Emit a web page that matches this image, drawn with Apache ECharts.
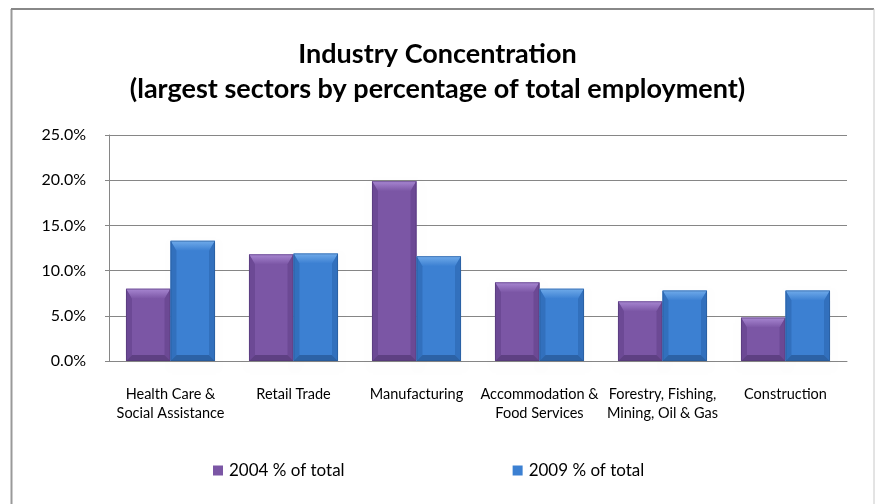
<!DOCTYPE html>
<html>
<head>
<meta charset="utf-8">
<script src="https://cdn.jsdelivr.net/npm/echarts@6/dist/echarts.min.js"></script>
<style>
  html, body { margin: 0; padding: 0; background: #fff; }
  #chart { width: 875px; height: 504px; }
</style>
</head>
<body>
<div id="chart"></div>
<script>
// Employment share by sector, 2004 vs 2009 (percent of total)
const categories = [
  'Health Care &\nSocial Assistance',
  'Retail Trade',
  'Manufacturing',
  'Accommodation &\nFood Services',
  'Forestry, Fishing,\nMining, Oil & Gas',
  'Construction'
];
const share2004 = [8.0, 11.8, 19.9, 8.7, 6.6, 4.8];
const share2009 = [13.3, 11.9, 11.6, 8.0, 7.8, 7.8];
const seriesNames = ['2004 % of total', '2009 % of total'];
const titleText = 'Industry Concentration';
const subtitleText = '(largest sectors by percentage of total employment)';

// bevel palettes: body, top face, side faces, bottom face
const palettes = [
  { body: '#7b56a5', top: '#a887d2', side: '#6c4995', bottom: '#5e4083', edge: '#4e3470' },
  { body: '#3c80d2', top: '#70abea', side: '#3270bd', bottom: '#2c62a6', edge: '#245490' }
];

// draws one bevelled column; the 2004 bar sits left of the category centre, 2009 right
function bevelBar(seriesIdx) {
  const pal = palettes[seriesIdx];
  return function (params, api) {
    const cat = api.value(0);
    const val = api.value(1);
    const band = api.size([1, 0])[0];
    const barW = band * 0.362;
    const topPt = api.coord([cat, val]);
    const basePt = api.coord([cat, 0]);
    const x0 = seriesIdx === 0 ? topPt[0] - barW : topPt[0];
    const x1 = x0 + barW;
    const y0 = topPt[1];
    const y1 = basePt[1];
    const h = y1 - y0;
    const bv = Math.min(10, h / 2);
    const sv = Math.min(6, barW / 4);
    return {
      type: 'group',
      children: [
        // soft shadow below the bar
        { type: 'rect', shape: { x: x0 + 1, y: y0 + 2, width: barW, height: h },
          style: { fill: 'rgba(0,0,0,0.01)', shadowBlur: 6, shadowOffsetY: 3, shadowColor: 'rgba(0,0,0,0.35)' }, silent: true },
        { type: 'rect', shape: { x: x0, y: y0, width: barW, height: h },
          style: { fill: pal.body } },
        { type: 'polygon', shape: { points: [[x0, y0], [x1, y0], [x1 - sv, y0 + bv], [x0 + sv, y0 + bv]] },
          style: { fill: new echarts.graphic.LinearGradient(0, 0, 0, 1, [
            { offset: 0, color: pal.top }, { offset: 1, color: pal.body }]) } },
        { type: 'polygon', shape: { points: [[x0, y0], [x0 + sv, y0 + bv], [x0 + sv, y1 - sv], [x0, y1]] },
          style: { fill: pal.side } },
        { type: 'polygon', shape: { points: [[x1, y0], [x1 - sv, y0 + bv], [x1 - sv, y1 - sv], [x1, y1]] },
          style: { fill: pal.side } },
        { type: 'polygon', shape: { points: [[x0, y1], [x0 + sv, y1 - sv], [x1 - sv, y1 - sv], [x1, y1]] },
          style: { fill: pal.bottom } },
        { type: 'rect', shape: { x: x0 + 0.5, y: y0 + 0.5, width: barW - 1, height: h - 1 },
          style: { fill: 'none', stroke: pal.edge, lineWidth: 1, opacity: 0.5 } }
      ]
    };
  };
}

const chart = echarts.init(document.getElementById('chart'), null, { renderer: 'canvas' });

const titleFont = { fontFamily: 'Lato', fontWeight: 'bold', fontSize: 27, color: '#000' };

chart.setOption({
  animation: false,
  backgroundColor: '#ffffff',
  graphic: [
    { type: 'line', shape: { x1: 11.5, y1: 9, x2: 11.5, y2: 504 }, style: { stroke: '#999999', lineWidth: 2 } },
    { type: 'line', shape: { x1: 11, y1: 9, x2: 874, y2: 9 }, style: { stroke: '#888888', lineWidth: 2 } },
    { type: 'line', shape: { x1: 874, y1: 9, x2: 874, y2: 504 }, style: { stroke: '#c8c8c8', lineWidth: 1 } }
  ],
  title: [
    { text: titleText, left: 'center', top: 36, textStyle: titleFont },
    { text: subtitleText, left: 'center', top: 71, textStyle: titleFont }
  ],
  legend: {
    data: seriesNames,
    left: 208,
    top: 457,
    itemGap: 168,
    itemWidth: 10,
    itemHeight: 10,
    icon: 'rect',
    textStyle: { fontFamily: 'Lato', fontSize: 17, color: '#000', padding: [0, 0, 0, 1] }
  },
  grid: { left: 109, right: 28, top: 135, bottom: 143, containLabel: false },
  xAxis: {
    type: 'category',
    data: categories,
    axisLine: { lineStyle: { color: '#868686', width: 1 } },
    axisTick: { show: false },
    axisLabel: { fontFamily: 'Lato', fontSize: 14.5, color: '#000', lineHeight: 19, margin: 24, interval: 0 }
  },
  yAxis: {
    type: 'value',
    min: 0,
    max: 25,
    interval: 5,
    axisLine: { show: true, lineStyle: { color: '#868686', width: 1 } },
    axisTick: { show: true, length: 4, lineStyle: { color: '#868686' } },
    splitLine: { lineStyle: { color: '#868686', width: 1 } },
    axisLabel: { fontFamily: 'Lato', fontSize: 16, color: '#000', margin: 23,
      formatter: v => v.toFixed(1) + '%' }
  },
  series: [
    { name: seriesNames[0], type: 'custom', renderItem: bevelBar(0),
      itemStyle: { color: palettes[0].body },
      encode: { x: 0, y: 1 },
      data: share2004.map((v, i) => [i, v]) },
    { name: seriesNames[1], type: 'custom', renderItem: bevelBar(1),
      itemStyle: { color: palettes[1].body },
      encode: { x: 0, y: 1 },
      data: share2009.map((v, i) => [i, v]) }
  ]
});
</script>
</body>
</html>
